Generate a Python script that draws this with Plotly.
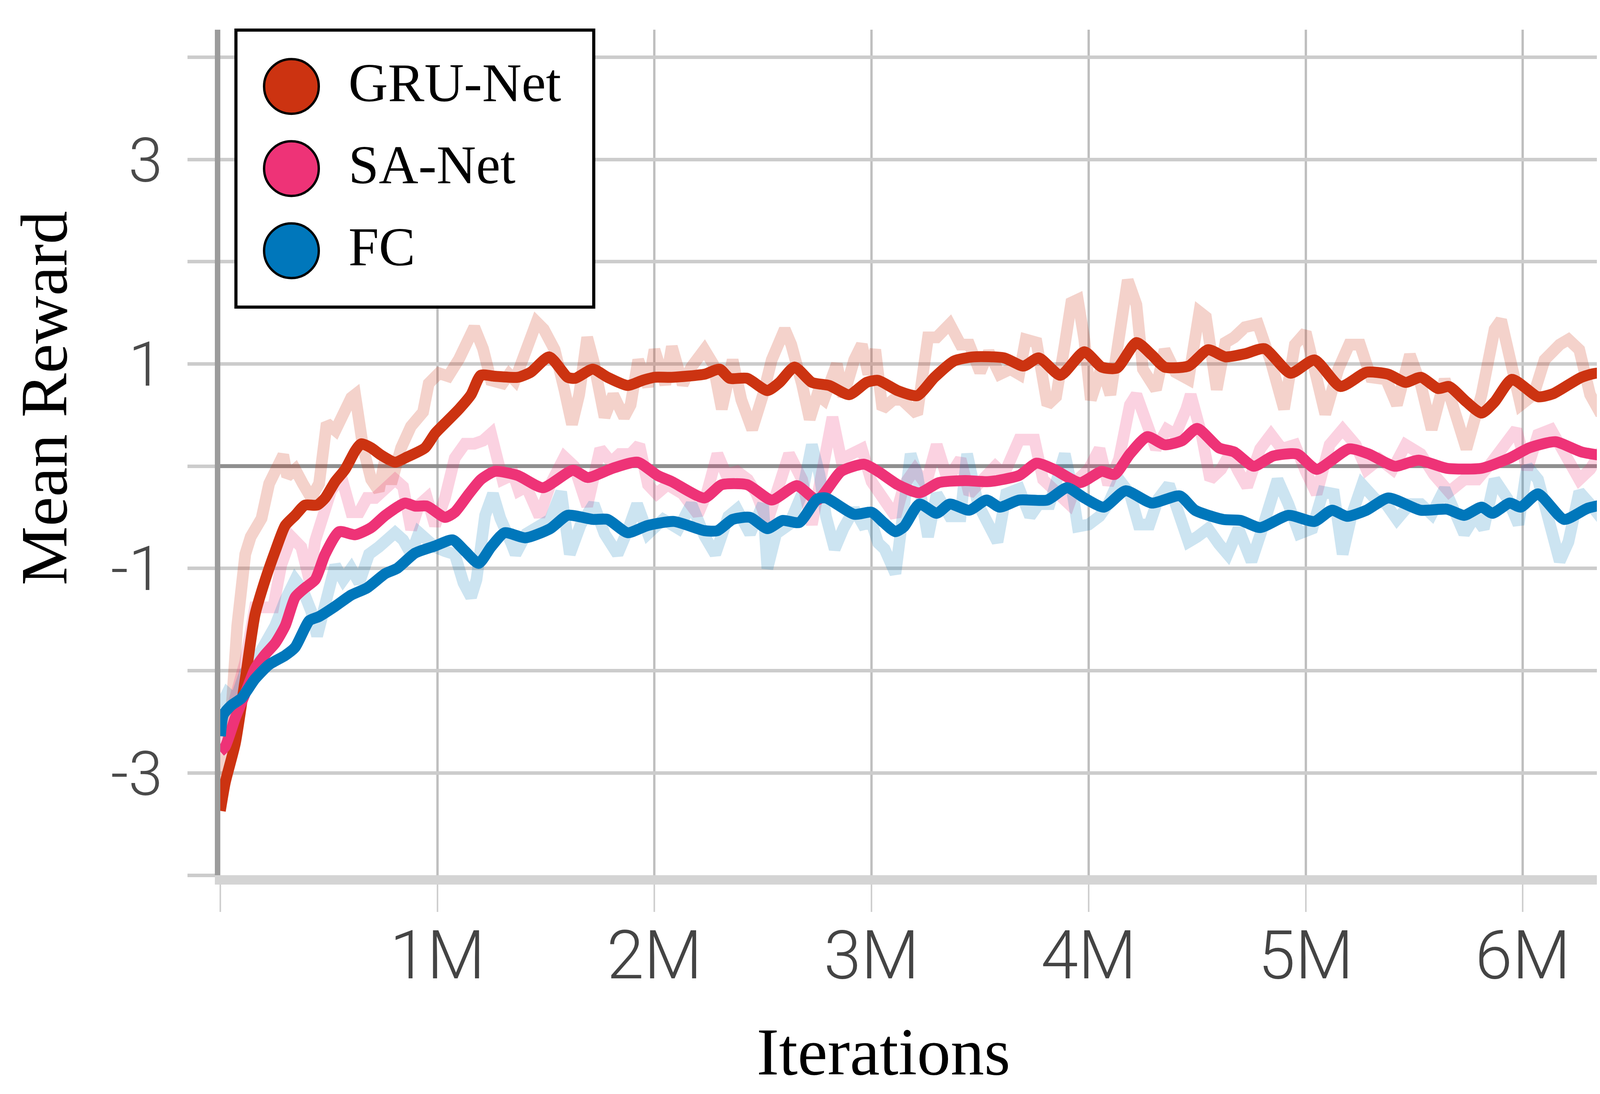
import plotly.graph_objects as go

# ---------------- data (x in millions of iterations) ----------------
series_names = ["GRU-Net", "SA-Net", "FC"]
series_colors = ["#CC3311", "#EE3377", "#0077BB"]
raw_colors = ["rgba(204,51,17,0.22)", "rgba(238,51,119,0.22)", "rgba(0,119,187,0.20)"]

gru_smooth_x = [0.0, 0.023, 0.069, 0.115, 0.16, 0.207, 0.253, 0.299, 0.345, 0.39, 0.446, 0.483, 0.529, 0.575,
                0.621, 0.649, 0.695, 0.74, 0.805, 0.86, 0.943, 0.989, 1.035, 1.10, 1.155, 1.20, 1.265, 1.37,
                1.43, 1.515, 1.60, 1.635, 1.716, 1.784, 1.876, 1.945, 2.0, 2.08, 2.23, 2.30, 2.346, 2.427,
                2.52, 2.576, 2.645, 2.725, 2.805, 2.897, 2.977, 3.03, 3.12, 3.21, 3.29, 3.38, 3.47, 3.61,
                3.70, 3.77, 3.87, 3.98, 4.06, 4.13, 4.22, 4.29, 4.35, 4.46, 4.55, 4.63, 4.72, 4.81, 4.93,
                5.04, 5.16, 5.28, 5.38, 5.46, 5.53, 5.61, 5.66, 5.74, 5.81, 5.87, 5.95, 6.07, 6.14, 6.27,
                6.35, 6.44, 6.51, 6.63, 6.656]
gru_smooth_y = [-3.37, -3.09, -2.71, -2.08, -1.45, -1.11, -0.83, -0.58, -0.48, -0.38, -0.38, -0.31, -0.15, -0.03,
                0.15, 0.22, 0.18, 0.11, 0.04, 0.09, 0.18, 0.32, 0.42, 0.56, 0.70, 0.89, 0.88, 0.87,
                0.92, 1.07, 0.87, 0.86, 0.95, 0.87, 0.79, 0.84, 0.87, 0.87, 0.90, 0.95, 0.86, 0.86,
                0.74, 0.82, 0.97, 0.82, 0.79, 0.70, 0.82, 0.84, 0.74, 0.69, 0.87, 1.03, 1.07, 1.06,
                0.98, 1.06, 0.89, 1.12, 0.97, 0.96, 1.21, 1.09, 0.97, 0.98, 1.14, 1.07, 1.10, 1.15, 0.91,
                1.04, 0.78, 0.92, 0.90, 0.82, 0.87, 0.76, 0.78, 0.63, 0.52, 0.63, 0.85, 0.68, 0.71, 0.87,
                0.91, 0.78, 0.85, 0.87, 0.68]

sa_smooth_x = [0.0, 0.023, 0.069, 0.115, 0.16, 0.207, 0.253, 0.299, 0.345, 0.39, 0.437, 0.483, 0.547, 0.621,
               0.695, 0.76, 0.85, 0.897, 0.952, 1.035, 1.08, 1.145, 1.20, 1.265, 1.37, 1.486, 1.624, 1.693,
               1.807, 1.922, 2.014, 2.08, 2.23, 2.31, 2.427, 2.54, 2.656, 2.75, 2.86, 2.966, 3.03, 3.12,
               3.22, 3.31, 3.43, 3.54, 3.68, 3.76, 3.84, 3.96, 4.06, 4.12, 4.19, 4.27, 4.35, 4.43, 4.50,
               4.60, 4.67, 4.76, 4.85, 4.96, 5.05, 5.20, 5.29, 5.41, 5.52, 5.65, 5.81, 5.94, 6.03, 6.15,
               6.27, 6.40, 6.54, 6.656]
sa_smooth_y = [-2.79, -2.74, -2.46, -2.22, -1.98, -1.84, -1.73, -1.56, -1.28, -1.19, -1.11, -0.86, -0.64, -0.67,
               -0.60, -0.48, -0.36, -0.39, -0.39, -0.50, -0.45, -0.27, -0.13, -0.05, -0.09, -0.21, -0.04, -0.11,
               -0.02, 0.04, -0.09, -0.15, -0.31, -0.18, -0.18, -0.33, -0.19, -0.33, -0.05, 0.02, -0.05, -0.18,
               -0.26, -0.16, -0.14, -0.15, -0.09, 0.03, -0.03, -0.16, -0.05, -0.08, 0.12, 0.29, 0.21, 0.25, 0.37,
               0.18, 0.14, 0.00, 0.10, 0.12, -0.03, 0.17, 0.12, 0.00, 0.06, -0.02, -0.02, 0.08, 0.18, 0.24,
               0.14, 0.10, 0.14, 0.20]

fc_smooth_x = [0.0, 0.014, 0.05, 0.097, 0.16, 0.225, 0.299, 0.345, 0.41, 0.455, 0.529, 0.603, 0.676, 0.76,
               0.814, 0.897, 0.989, 1.07, 1.127, 1.19, 1.247, 1.31, 1.406, 1.52, 1.60, 1.716, 1.784, 1.876,
               1.968, 2.09, 2.23, 2.29, 2.36, 2.44, 2.52, 2.59, 2.667, 2.75, 2.79, 2.92, 3.0, 3.055, 3.11,
               3.15, 3.22, 3.30, 3.36, 3.45, 3.53, 3.59, 3.68, 3.81, 3.90, 3.98, 4.07, 4.17, 4.29, 4.42,
               4.49, 4.62, 4.70, 4.79, 4.92, 5.04, 5.12, 5.19, 5.28, 5.38, 5.53, 5.65, 5.73, 5.81, 5.86,
               5.94, 5.99, 6.07, 6.19, 6.30, 6.40, 6.52, 6.60, 6.656]
fc_smooth_y = [-2.64, -2.43, -2.34, -2.27, -2.08, -1.94, -1.85, -1.77, -1.51, -1.47, -1.37, -1.26, -1.19, -1.05,
               -1.00, -0.85, -0.78, -0.72, -0.83, -0.95, -0.79, -0.65, -0.70, -0.61, -0.48, -0.52, -0.52, -0.65,
               -0.58, -0.54, -0.63, -0.63, -0.52, -0.50, -0.61, -0.53, -0.55, -0.32, -0.31, -0.47, -0.45, -0.55,
               -0.64, -0.59, -0.37, -0.46, -0.37, -0.43, -0.33, -0.40, -0.33, -0.33, -0.21, -0.31, -0.40, -0.24,
               -0.36, -0.29, -0.43, -0.52, -0.53, -0.60, -0.48, -0.54, -0.43, -0.49, -0.43, -0.31, -0.43, -0.42,
               -0.48, -0.40, -0.46, -0.36, -0.40, -0.27, -0.52, -0.41, -0.37, -0.41, -0.22, -0.24]

gru_raw_x = [0.0, 0.023, 0.05, 0.078, 0.115, 0.14, 0.19, 0.225, 0.253, 0.29, 0.308, 0.345, 0.38, 0.419, 0.455,
             0.49, 0.53, 0.566, 0.603, 0.621, 0.658, 0.695, 0.73, 0.76, 0.787, 0.833, 0.878, 0.934, 0.96,
             1.007, 1.05, 1.10, 1.136, 1.17, 1.21, 1.247, 1.30, 1.33, 1.357, 1.40, 1.457, 1.49, 1.54, 1.585,
             1.62, 1.653, 1.69, 1.72, 1.77, 1.81, 1.86, 1.89, 1.925, 1.97, 2.0, 2.05, 2.08, 2.13, 2.17, 2.23,
             2.27, 2.31, 2.36, 2.40, 2.45, 2.50, 2.54, 2.60, 2.63, 2.68, 2.715, 2.75, 2.78, 2.84, 2.87, 2.92,
             2.955, 2.985, 3.017, 3.05, 3.10, 3.14, 3.21, 3.26, 3.30, 3.36, 3.41, 3.45, 3.50, 3.54, 3.59,
             3.64, 3.68, 3.71, 3.76, 3.81, 3.85, 3.89, 3.92, 3.95, 3.98, 4.01, 4.06, 4.10, 4.15, 4.18, 4.22,
             4.25, 4.31, 4.35, 4.40, 4.46, 4.51, 4.54, 4.59, 4.63, 4.67, 4.72, 4.78, 4.84, 4.90, 4.95, 5.0,
             5.05, 5.09, 5.15, 5.20, 5.25, 5.30, 5.37, 5.42, 5.48, 5.53, 5.58, 5.64, 5.69, 5.74, 5.81, 5.87,
             5.90, 5.94, 5.99, 6.05, 6.10, 6.17, 6.21, 6.26, 6.31, 6.36, 6.42, 6.48, 6.53, 6.58, 6.62, 6.656]
gru_raw_y = [-3.3, -2.9, -2.43, -1.56, -0.86, -0.69, -0.51, -0.17, -0.03, 0.11, -0.10, -0.03, -0.17, -0.31, -0.17,
             0.42, 0.35, 0.53, 0.67, 0.70, 0.18, -0.13, -0.24, 0.08, -0.17, 0.18, 0.39, 0.53, 0.81,
             0.91, 0.88, 1.05, 1.22, 1.36, 1.15, 0.84, 0.81, 0.90, 0.84, 1.09, 1.41, 1.34, 1.14, 0.75,
             0.41, 0.70, 1.26, 1.02, 0.48, 0.70, 0.48, 0.60, 1.04, 0.78, 1.14, 0.80, 1.17, 0.80, 0.97, 1.14,
             1.00, 0.56, 1.04, 0.65, 0.36, 0.70, 1.04, 1.34, 1.19, 0.80, 0.46, 0.70, 0.65, 1.00, 0.68, 1.04,
             1.19, 0.90, 1.14, 0.56, 0.65, 0.65, 0.51, 1.26, 1.26, 1.39, 1.19, 1.19, 0.92, 1.12, 0.90,
             0.95, 0.90, 1.24, 1.21, 0.60, 0.68, 1.19, 1.60, 1.63, 1.24, 0.65, 0.97, 0.70, 1.46, 1.82, 1.58,
             0.95, 0.75, 1.14, 0.92, 0.85, 1.51, 1.46, 0.75, 1.21, 1.26, 1.36, 1.39, 1.02, 0.56, 1.19, 1.31,
             0.80, 0.51, 0.95, 1.19, 1.19, 0.87, 0.85, 0.60, 1.09, 0.80, 0.36, 0.85, 0.51, 0.17, 0.70, 1.34,
             1.43, 1.09, 0.60, 0.70, 1.04, 1.19, 1.24, 1.14, 0.70, 0.51, 0.90, 1.17, 1.04, 1.00, 1.14, 0.65]

sa_raw_x = [0.0, 0.023, 0.069, 0.115, 0.16, 0.207, 0.244, 0.28, 0.327, 0.373, 0.41, 0.437, 0.474, 0.51, 0.557,
            0.603, 0.64, 0.676, 0.713, 0.768, 0.805, 0.842, 0.879, 0.915, 0.952, 0.989, 1.035, 1.08, 1.127,
            1.17, 1.21, 1.247, 1.275, 1.30, 1.35, 1.375, 1.41, 1.47, 1.52, 1.585, 1.63, 1.69, 1.75, 1.80,
            1.84, 1.89, 1.93, 1.97, 2.01, 2.06, 2.13, 2.20, 2.24, 2.29, 2.33, 2.38, 2.43, 2.47, 2.52, 2.56,
            2.62, 2.68, 2.725, 2.77, 2.82, 2.86, 2.91, 2.955, 3.0, 3.03, 3.06, 3.11, 3.15, 3.20, 3.25, 3.30,
            3.35, 3.41, 3.45, 3.51, 3.57, 3.61, 3.68, 3.75, 3.79, 3.86, 3.91, 3.95, 4.0, 4.05, 4.09, 4.14,
            4.19, 4.22, 4.27, 4.31, 4.36, 4.40, 4.45, 4.47, 4.52, 4.56, 4.61, 4.65, 4.69, 4.73, 4.79, 4.84,
            4.89, 4.95, 5.0, 5.05, 5.11, 5.17, 5.23, 5.28, 5.34, 5.40, 5.46, 5.53, 5.59, 5.66, 5.73, 5.79,
            5.85, 5.90, 5.97, 6.02, 6.07, 6.13, 6.19, 6.26, 6.31, 6.38, 6.43, 6.48, 6.54, 6.59, 6.656]
sa_raw_y = [-2.8, -2.6, -2.26, -1.91, -1.38, -1.38, -1.38, -0.97, -0.69, -0.79, -1.11, -0.73, -0.45, -0.24, -0.10,
            -0.45, -0.45, -0.31, -0.31, -0.20, -0.13, -0.20, -0.62, -0.38, -0.31, -0.58, -0.31, 0.08, 0.22,
            0.22, 0.25, 0.32, 0.04, -0.13, -0.08, -0.24, -0.20, -0.49, -0.18, 0.09, 0.0, -0.39, 0.17, 0.04,
            0.12, 0.12, 0.21, -0.18, -0.27, -0.18, -0.27, -0.47, -0.27, 0.12, -0.08, -0.05, -0.13, -0.27, -0.54, -0.27,
            0.12, -0.13, -0.57, -0.08, 0.48, 0.07, 0.12, 0.17, -0.15, -0.25, -0.37, -0.49, -0.18, -0.03, -0.18, 0.21,
            -0.13, 0.07, -0.27, -0.13, 0.0, -0.08, 0.26, 0.26, -0.13, -0.27, -0.37, -0.13, -0.03, 0.17, -0.18, 0.07,
            0.60, 0.70, 0.36, 0.17, 0.36, 0.31, 0.56, 0.70, 0.31, -0.13, -0.03, 0.12, -0.05, -0.20, 0.17, 0.31,
            0.17, 0.21, -0.05, -0.27, 0.21, 0.36, 0.21, -0.03, 0.07, -0.03, 0.21, 0.12, -0.08, -0.25, -0.13, -0.13,
            0.02, 0.17, 0.36, -0.03, 0.31, 0.36, 0.14, -0.13, -0.03, 0.21, 0.17, 0.26, 0.31, 0.36, 0.21]

fc_raw_x = [0.0, 0.032, 0.069, 0.115, 0.16, 0.207, 0.253, 0.299, 0.345, 0.38, 0.419, 0.446, 0.483, 0.529, 0.566,
            0.603, 0.64, 0.685, 0.73, 0.768, 0.805, 0.842, 0.879, 0.915, 0.952, 0.989, 1.035, 1.08, 1.12,
            1.155, 1.18, 1.22, 1.256, 1.29, 1.34, 1.36, 1.41, 1.47, 1.52, 1.57, 1.61, 1.66, 1.72, 1.77, 1.83,
            1.88, 1.92, 1.97, 2.04, 2.11, 2.17, 2.23, 2.28, 2.34, 2.38, 2.44, 2.50, 2.52, 2.56, 2.62, 2.68,
            2.725, 2.76, 2.79, 2.83, 2.87, 2.92, 2.96, 3.0, 3.03, 3.06, 3.11, 3.14, 3.18, 3.21, 3.26, 3.30,
            3.36, 3.41, 3.44, 3.49, 3.53, 3.58, 3.62, 3.68, 3.73, 3.77, 3.82, 3.86, 3.89, 3.92, 3.95, 4.0,
            4.05, 4.09, 4.14, 4.19, 4.23, 4.28, 4.32, 4.37, 4.41, 4.46, 4.50, 4.55, 4.60, 4.64, 4.69, 4.73,
            4.75, 4.80, 4.87, 4.92, 4.97, 5.03, 5.08, 5.13, 5.17, 5.21, 5.26, 5.32, 5.37, 5.42, 5.48, 5.53,
            5.58, 5.64, 5.69, 5.73, 5.78, 5.82, 5.87, 5.93, 5.98, 6.02, 6.07, 6.13, 6.17, 6.21, 6.26, 6.31,
            6.36, 6.40, 6.46, 6.51, 6.55, 6.59, 6.63, 6.656]
fc_raw_y = [-2.36, -2.22, -2.29, -2.01, -1.91, -1.73, -1.56, -1.31, -1.11, -1.21, -1.42, -1.66, -1.38, -0.97, -1.11,
            -1.00, -1.14, -0.86, -0.79, -0.72, -0.65, -0.72, -0.86, -0.65, -0.72, -0.79, -0.83, -0.86, -1.14,
            -1.28, -1.11, -0.48, -0.27, -0.51, -0.75, -0.86, -0.66, -0.57, -0.52, -0.25, -0.86, -0.57, -0.37, -0.66, -0.86,
            -0.61, -0.37, -0.66, -0.52, -0.61, -0.37, -0.68, -0.86, -0.49, -0.42, -0.66, -0.37, -1.0, -0.66, -0.57, -0.27,
            0.21, -0.08, -0.49, -0.81, -0.61, -0.42, -0.57, -0.55, -0.75, -0.81, -1.05, -0.49, 0.12, -0.08, -0.69, -0.27,
            -0.49, -0.49, 0.12, -0.37, -0.52, -0.74, -0.27, -0.22, -0.49, -0.37, -0.37, -0.13, 0.12, -0.18, -0.59, -0.57,
            -0.49, -0.37, -0.13, -0.27, -0.57, -0.57, -0.32, -0.18, -0.42, -0.74, -0.69, -0.61, -0.76, -0.86, -0.61, -0.86,
            -0.93, -0.61, -0.13, -0.37, -0.66, -0.61, -0.25, -0.27, -0.86, -0.49, -0.18, -0.32, -0.37, -0.52, -0.37, -0.37,
            -0.47, -0.22, -0.49, -0.66, -0.49, -0.61, -0.13, -0.32, -0.57, 0.0, -0.13, -0.61, -0.93, -0.74, -0.25, -0.37,
            -0.52, -0.61, -0.25, -0.18, -0.03, 0.0, -0.37, -0.37]

x_tick_vals = [0, 1, 2, 3, 4, 5, 6]
x_tick_text = ["", "1M", "2M", "3M", "4M", "5M", "6M"]
y_tick_vals = [-4, -3, -2, -1, 0, 1, 2, 3, 4]
y_tick_text = ["", "-3", "", "-1", "", "1", "", "3", ""]

legend_rows = [0.8, 0.5, 0.2]

x_title = "Iterations"
y_title = "Mean Reward"

# ---------------- figure ----------------
fig = go.Figure()

raw_sets = [(gru_raw_x, gru_raw_y), (sa_raw_x, sa_raw_y), (fc_raw_x, fc_raw_y)]
smooth_sets = [(gru_smooth_x, gru_smooth_y), (sa_smooth_x, sa_smooth_y), (fc_smooth_x, fc_smooth_y)]

for (rx, ry), rc in zip(raw_sets, raw_colors):
    fig.add_trace(go.Scatter(x=rx, y=ry, mode="lines",
                             line=dict(color=rc, width=30),
                             showlegend=False, hoverinfo="skip"))

for (sx, sy), c, n in zip(smooth_sets, series_colors, series_names):
    fig.add_trace(go.Scatter(x=sx, y=sy, mode="lines", name=n,
                             line=dict(color=c, width=28, shape="spline", smoothing=0.6),
                             showlegend=False))

# custom legend in an inset axes
fig.add_trace(go.Scatter(x=[0.152] * 3, y=legend_rows, mode="markers",
                         marker=dict(size=140, color=series_colors, line=dict(color="black", width=6)),
                         xaxis="x2", yaxis="y2", showlegend=False, hoverinfo="skip"))

serif = "Liberation Serif"
annotations = []
for n, yv in zip(series_names, legend_rows):
    annotations.append(dict(text=n, x=0.31, y=yv, xref="x2", yref="y2",
                            xanchor="left", yanchor="middle", showarrow=False, yshift=10,
                            font=dict(family=serif, size=140, color="black")))
annotations.append(dict(text=x_title, x=0.459, y=-0.209, xref="paper", yref="paper",
                        xanchor="center", yanchor="middle", showarrow=False,
                        font=dict(family=serif, size=172, color="black")))
annotations.append(dict(text=y_title, x=-0.122, y=0.564, xref="paper", yref="paper",
                        xanchor="center", yanchor="middle", showarrow=False, textangle=-90,
                        font=dict(family=serif, size=170, color="black")))

fig.update_layout(
    width=4305, height=2800,
    margin=dict(l=556, r=50, t=68, b=568),
    paper_bgcolor="white", plot_bgcolor="white",
    showlegend=False,
    annotations=annotations,
    xaxis=dict(range=[0, 6.656], tickmode="array", tickvals=x_tick_vals, ticktext=x_tick_text,
               showgrid=True, gridcolor="#bfbfbf", gridwidth=6, zeroline=False,
               showline=True, linecolor="#d4d4d4", linewidth=24,
               ticks="outside", ticklen=70, tickwidth=4, tickcolor="#cfcfcf",
               tickfont=dict(family="Roboto", size=172, color="#444444", weight=300),
               ticklabelstandoff=-36),
    yaxis=dict(range=[-4, 4.27], tickmode="array", tickvals=y_tick_vals, ticktext=y_tick_text,
               showgrid=True, gridcolor="#cccccc", gridwidth=9,
               zeroline=True, zerolinecolor="#8f8f8f", zerolinewidth=10,
               showline=True, linecolor="#9c9c9c", linewidth=14,
               ticks="outside", ticklen=70, tickwidth=9, tickcolor="#cccccc",
               tickfont=dict(family="Roboto", size=158, color="#4a4a4a", weight=300),
               ticklabelstandoff=32),
    xaxis2=dict(domain=[0.0119, 0.2574], range=[0, 1], anchor="y2", showgrid=False, zeroline=False,
                showticklabels=False, showline=True, mirror=True, linecolor="black", linewidth=8,
                ticks="", fixedrange=True),
    yaxis2=dict(domain=[0.6738, 0.9977], range=[0, 1], anchor="x2", showgrid=False, zeroline=False,
                showticklabels=False, showline=True, mirror=True, linecolor="black", linewidth=8,
                ticks="", fixedrange=True),
)

fig.write_html("out.html")
